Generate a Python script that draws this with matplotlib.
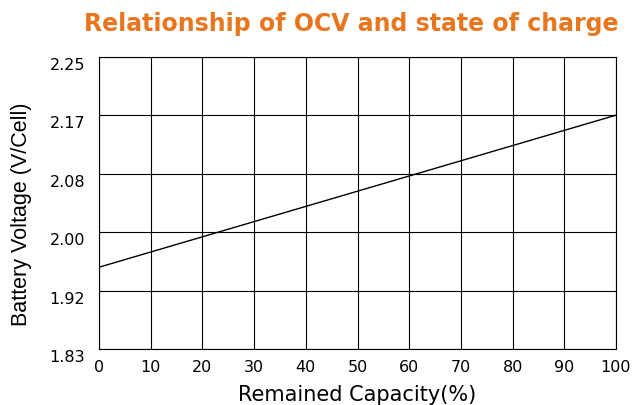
import matplotlib.pyplot as plt
import matplotlib.transforms as mtransforms

# data
capacity = [0, 100]
voltage = [1.95, 2.167]

x_ticks = [0, 10, 20, 30, 40, 50, 60, 70, 80, 90, 100]
y_ticks = [1.8333, 1.9167, 2.0, 2.0833, 2.1667, 2.25]
y_labels = ['1.83', '1.92', '2.00', '2.08', '2.17', '2.25']

fig = plt.figure(figsize=(6.32, 4.05), dpi=100)
ax = fig.add_axes([99 / 632, 1 - 349 / 405, 517 / 632, 292 / 405])

ax.plot(capacity, voltage, color='black', linewidth=1.0)

ax.set_xlim(0, 100)
ax.set_ylim(y_ticks[0], y_ticks[-1])
ax.set_xticks(x_ticks)
ax.set_yticks(y_ticks)
ax.set_yticklabels(y_labels)
ax.grid(True, color='black', linewidth=0.8)
ax.tick_params(axis='x', length=0, labelsize=11.5, pad=8)
ax.tick_params(axis='y', length=0, labelsize=11.5, pad=10)
# y labels sit a little below their grid lines
shift = mtransforms.ScaledTranslation(0, -7 / 100, fig.dpi_scale_trans)
for lbl in ax.get_yticklabels():
    lbl.set_transform(lbl.get_transform() + shift)
for s in ax.spines.values():
    s.set_linewidth(0.8)

ax.set_xlabel('Remained Capacity(%)', fontsize=15, labelpad=7)
ax.set_ylabel('Battery Voltage (V/Cell)', fontsize=15.5, family='Liberation Sans')
ax.yaxis.set_label_coords(-0.13, 0.46)
ax.set_title('Relationship of OCV and state of charge', fontsize=17,
             fontweight='bold', color='#E8761F', pad=19, x=0.487)

fig.savefig('out.png', dpi=100)
